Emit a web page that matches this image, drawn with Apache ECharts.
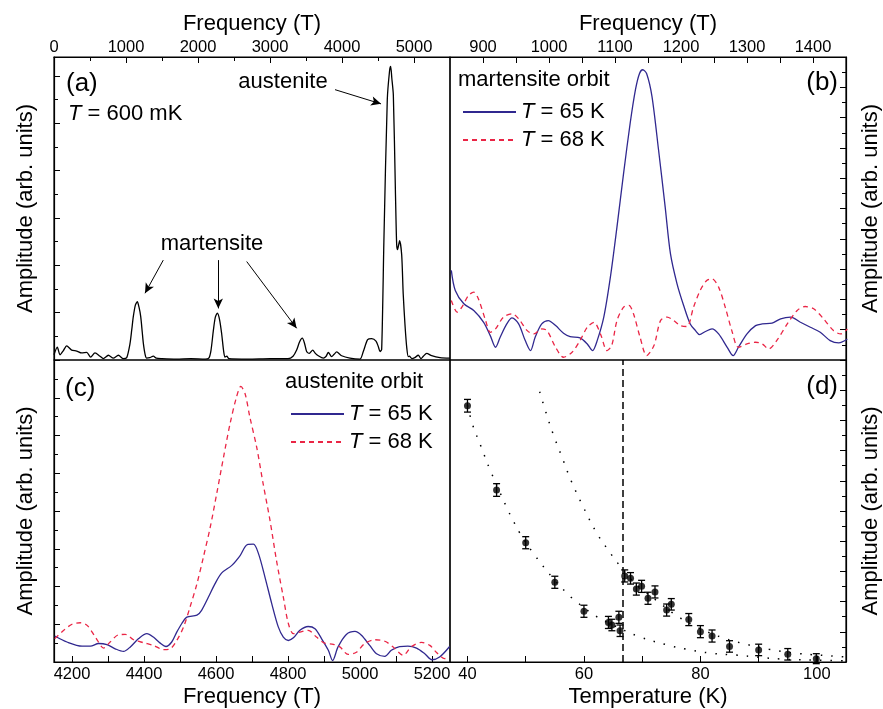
<!DOCTYPE html>
<html>
<head>
<meta charset="utf-8">
<title>Quantum oscillations - martensite / austenite</title>
<script src="https://cdn.jsdelivr.net/npm/echarts@6/dist/echarts.min.js"></script>
<style>
    html, body { margin: 0; padding: 0; background: #fff; }
    #main { width: 883px; height: 709px; }
</style>
</head>
<body>
<div id="main"></div>
<script type="text/javascript">
// ---- panel (a): FFT spectrum at T = 600 mK
var aFreq = [0, 46, 83, 130, 176, 245, 315, 384, 454, 509, 569, 639, 685, 755, 824, 894, 963, 1010, 1056, 1080, 1102, 1130, 1157, 1180, 1204, 1225, 1241, 1265, 1287, 1330, 1380, 1420, 1500, 1700, 1900, 2100, 2150, 2180, 2213, 2240, 2269, 2300, 2329, 2355, 2375, 2400, 2430, 2700, 3000, 3250, 3320, 3370, 3410, 3449, 3480, 3509, 3546, 3593, 3630, 3671, 3741, 3780, 3810, 3856, 3890, 3926, 3995, 4110, 4250, 4296, 4356, 4412, 4472, 4505, 4528, 4551, 4583, 4629, 4660, 4676, 4692, 4713, 4741, 4759, 4772, 4800, 4829, 4850, 4875, 4900, 4921, 4935, 4972, 5010, 5060, 5097, 5130, 5176, 5245, 5361, 5500];
var aAmp  = [0.11, 0.27, 0.11, 0.2, 0.30, 0.21, 0.19, 0.15, 0.16, 0.06, 0.15, 0.08, 0.03, 0.10, 0.04, 0.10, 0.03, 0.05, 0.35, 0.64, 0.92, 1.16, 1.23, 1.12, 0.92, 0.6, 0.35, 0.12, 0.04, 0.05, 0.08, 0.04, 0.03, 0.02, 0.03, 0.02, 0.04, 0.2, 0.62, 0.9, 0.99, 0.85, 0.55, 0.2, 0.06, 0.08, 0.03, 0.02, 0.03, 0.03, 0.08, 0.21, 0.38, 0.46, 0.35, 0.18, 0.14, 0.21, 0.14, 0.09, 0.04, 0.08, 0.16, 0.07, 0.12, 0.17, 0.09, 0.04, 0.02, 0.18, 0.43, 0.45, 0.40, 0.28, 0.18, 0.22, 2.6, 5.5, 6.1, 6.2, 5.95, 5.6, 3.63, 2.45, 2.33, 2.52, 2.22, 1.4, 0.74, 0.25, 0.07, 0.08, 0.03, 0.05, 0.10, 0.03, 0.08, 0.14, 0.09, 0.05, 0.04];
// arrows of panel (a): [fromFreq, fromAmp, toFreq, toAmp]
var aArrows = [
    [3903, 5.71, 4542, 5.41],
    [1518, 2.11, 1264, 1.41],
    [2282, 2.11, 2282, 1.09],
    [2676, 2.08, 3370, 0.67]
];

// ---- panel (b): martensite orbit
var b65Freq = [852, 858, 871, 886, 901, 911, 919, 926, 936, 944, 954, 964, 972, 979, 989, 999, 1010, 1022, 1032, 1047, 1058, 1066, 1073, 1083, 1093, 1103, 1113, 1123, 1131, 1137, 1142, 1148, 1156, 1166, 1176, 1184, 1194, 1204, 1214, 1222, 1228, 1237, 1247, 1257, 1270, 1279, 1287, 1300, 1313, 1323, 1338, 1351, 1366, 1381, 1396, 1411, 1426, 1439, 1452];
var b65Amp  = [5.92, 4.59, 3.71, 3.27, 2.49, 1.61, 0.84, 1.50, 2.38, 2.78, 2.38, 1.28, 0.62, 1.50, 2.38, 2.60, 2.27, 1.77, 1.55, 1.46, 1.06, 0.62, 1.28, 2.83, 5.47, 8.79, 12.32, 15.63, 17.84, 18.90, 19.16, 18.90, 17.40, 13.86, 10.11, 7.02, 5.03, 3.60, 2.38, 1.94, 1.68, 1.88, 2.05, 1.72, 0.84, 0.29, 0.84, 1.72, 2.27, 2.38, 2.43, 2.72, 2.83, 2.49, 2.16, 1.83, 1.28, 1.13, 1.39];
var b68Freq = [852, 861, 868, 878, 886, 893, 904, 911, 919, 931, 944, 954, 967, 977, 989, 997, 1010, 1022, 1035, 1047, 1058, 1068, 1078, 1088, 1095, 1103, 1113, 1121, 1128, 1138, 1148, 1159, 1169, 1179, 1189, 1199, 1209, 1219, 1229, 1239, 1247, 1257, 1267, 1277, 1287, 1300, 1313, 1323, 1333, 1345, 1361, 1376, 1388, 1401, 1416, 1431, 1442, 1452];
var b68Amp  = [3.93, 3.16, 3.49, 4.26, 4.48, 4.04, 2.60, 1.83, 2.05, 2.83, 3.05, 2.72, 1.94, 1.72, 2.05, 1.94, 0.84, 0.18, 0.51, 1.28, 2.16, 2.49, 1.72, 0.62, 0.95, 2.60, 3.49, 3.60, 3.05, 1.50, 0.29, 0.95, 2.60, 2.83, 2.60, 2.27, 2.21, 3.49, 4.59, 5.25, 5.36, 4.81, 3.49, 1.94, 0.84, 1.06, 1.17, 1.06, 0.73, 1.28, 2.38, 3.27, 3.53, 3.38, 2.72, 1.94, 1.72, 2.05];

// ---- panel (c): austenite orbit
var c65Freq = [4152, 4186, 4228, 4251, 4274, 4297, 4320, 4343, 4362, 4385, 4408, 4426, 4445, 4461, 4477, 4491, 4505, 4519, 4547, 4560, 4579, 4597, 4616, 4644, 4667, 4687, 4704, 4718, 4736, 4755, 4773, 4787, 4801, 4815, 4833, 4856, 4875, 4893, 4912, 4924, 4939, 4962, 4986, 5004, 5027, 5046, 5069, 5087, 5110, 5133, 5157, 5180, 5200, 5221, 5249];
var c65Amp  = [0.69, 0.53, 0.42, 0.42, 0.49, 0.46, 0.35, 0.28, 0.40, 0.62, 0.75, 0.66, 0.50, 0.41, 0.53, 0.79, 1.02, 1.19, 1.24, 1.37, 1.72, 2.07, 2.36, 2.56, 2.82, 3.11, 3.12, 2.87, 2.25, 1.54, 0.93, 0.66, 0.57, 0.64, 0.84, 0.94, 0.88, 0.62, 0.31, 0.04, 0.40, 0.73, 0.81, 0.71, 0.44, 0.22, 0.15, 0.31, 0.41, 0.42, 0.37, 0.22, 0.06, 0.13, 0.41];
var c68Freq = [4152, 4177, 4200, 4223, 4242, 4265, 4288, 4306, 4329, 4348, 4371, 4399, 4426, 4454, 4473, 4491, 4510, 4528, 4547, 4565, 4584, 4602, 4621, 4639, 4657, 4669, 4681, 4694, 4713, 4731, 4750, 4768, 4787, 4801, 4815, 4833, 4856, 4879, 4902, 4926, 4944, 4967, 4990, 5013, 5041, 5069, 5092, 5120, 5143, 5171, 5194, 5212, 5235, 5249];
var c68Amp  = [0.62, 0.84, 1.00, 1.04, 0.97, 0.66, 0.37, 0.53, 0.72, 0.73, 0.59, 0.51, 0.44, 0.33, 0.35, 0.57, 0.93, 1.46, 2.07, 2.78, 3.57, 4.46, 5.43, 6.31, 7.02, 7.30, 7.10, 6.49, 5.69, 4.72, 3.75, 2.69, 1.72, 1.02, 0.75, 0.79, 0.84, 0.66, 0.50, 0.47, 0.40, 0.20, 0.26, 0.49, 0.59, 0.55, 0.40, 0.18, 0.41, 0.52, 0.44, 0.26, 0.09, 0.13];

// ---- panel (d): amplitude vs temperature
var dTemp = [40, 45, 50, 55, 60, 64.2, 64.8, 66.0, 66.2, 67.0, 68.0, 69.0, 69.9, 71.0, 72.2, 74.2, 75.0, 78.0, 80.0, 82.0, 85.0, 90.0, 95.0, 99.9];
var dAmp  = [16.97, 11.39, 7.9, 5.28, 3.36, 2.62, 2.45, 2.96, 2.07, 5.70, 5.54, 4.83, 5.01, 4.22, 4.64, 3.44, 3.82, 2.81, 2.01, 1.72, 1.03, 0.80, 0.51, 0.22];
var dErr  = [0.42, 0.42, 0.4, 0.4, 0.4, 0.4, 0.38, 0.4, 0.38, 0.4, 0.38, 0.4, 0.4, 0.4, 0.4, 0.4, 0.38, 0.4, 0.4, 0.4, 0.38, 0.38, 0.38, 0.33];
var fitLowTemp  = [40, 40.9, 42.4, 43.8, 46.9, 47.8, 48.9, 51.4, 55, 57.1, 58.0, 61.8, 65, 69.5, 74.3, 77.5, 82.1, 86.1, 93.8, 102.4, 105];
var fitLowAmp   = [17.0, 15.7, 14.2, 12.8, 10.1, 9.4, 8.6, 7.15, 5.4, 4.55, 4.22, 3.1, 2.45, 1.68, 1.13, 0.85, 0.57, 0.46, 0.2, 0.1, 0.08];
var fitHighTemp = [52.4, 53.5, 54.8, 56.3, 57.8, 59.6, 62.1, 64.0, 66.1, 68, 70, 72.7, 76.2, 80, 84.1, 87.7, 91.8, 96.7, 104.4, 105];
var fitHighAmp  = [17.9, 16.5, 15.0, 13.5, 12.0, 10.5, 8.6, 7.5, 6.4, 5.5, 4.8, 4.0, 3.0, 2.2, 1.57, 1.19, 0.84, 0.57, 0.35, 0.33];
var transitionTemp = 66.6;

// tick / label values
var aFreqLabels = [0, 1000, 2000, 3000, 4000, 5000];
var bFreqTicks  = [900, 950, 1000, 1050, 1100, 1150, 1200, 1250, 1300, 1350, 1400];
var bFreqLabels = [900, 1000, 1100, 1200, 1300, 1400];
var cFreqTicks  = [4200, 4300, 4400, 4500, 4600, 4700, 4800, 4900, 5000, 5100, 5200];
var cFreqLabels = [4200, 4400, 4600, 4800, 5000, 5200];
var dTempTicks  = [40, 50, 60, 70, 80, 90, 100];
var dTempLabels = [40, 60, 80, 100];

var FONT = '"Liberation Sans", Arial, Helvetica, sans-serif';
var BLUE = '#30288f';
var RED = '#ea2545';

function pairs(xs, ys) {
    return xs.map(function (x, i) { return [x, ys[i]]; });
}

var black = {color: '#000'};
var tickStyle = {color: '#000', width: 1};

function valueAxis(extra) {
    var ax = {
        type: 'value',
        axisLine: {show: true, onZero: false, lineStyle: {color: '#000', width: 1.2}},
        axisTick: {show: true, inside: true, length: 6, lineStyle: tickStyle},
        minorTick: {show: false},
        axisLabel: {show: true, fontSize: 16.5, fontFamily: FONT, color: '#000', margin: 4,
            formatter: function (v) { return String(v); }},
        splitLine: {show: false},
        nameLocation: 'middle',
        nameTextStyle: {fontSize: 22, fontFamily: FONT, color: '#000'}
    };
    for (var k in extra) {
        if (typeof extra[k] === 'object' && ax[k] && !Array.isArray(extra[k])) {
            ax[k] = Object.assign({}, ax[k], extra[k]);
        } else {
            ax[k] = extra[k];
        }
    }
    return ax;
}

function legendFor(names, left, top) {
    return {
        left: left, top: top, orient: 'vertical',
        data: names,
        itemWidth: 53, itemHeight: 14, itemGap: 4,
        selectedMode: false,
        itemStyle: {opacity: 0},
        formatter: function (n) { return '{i|T} = ' + n.slice(1) + ' K'; },
        textStyle: {fontSize: 22, fontFamily: FONT, color: '#000', lineHeight: 24,
            rich: {i: {fontStyle: 'italic', fontSize: 22, fontFamily: FONT, color: '#000'}}}
    };
}

var myChart = echarts.init(document.getElementById('main'), null, {renderer: 'canvas'});

var option = {
    backgroundColor: '#fff',
    animation: false,
    grid: [
        {left: 54, top: 57, width: 396, height: 303},
        {left: 450, top: 57, width: 397, height: 303},
        {left: 54, top: 360, width: 396, height: 302},
        {left: 450, top: 360, width: 397, height: 302}
    ].map(function (g) {
        return Object.assign({show: true, borderColor: '#000', borderWidth: 1.2, containLabel: false}, g);
    }),
    xAxis: [
        valueAxis({gridIndex: 0, position: 'top', min: 0, max: 5500,
            axisTick: {customValues: aFreqLabels},
            minorTick: {show: true, splitNumber: 2, length: 4, lineStyle: tickStyle},
            axisLabel: {customValues: aFreqLabels, margin: 1},
            name: 'Frequency (T)', nameGap: 22}),
        valueAxis({gridIndex: 1, position: 'top', min: 850, max: 1450,
            axisTick: {customValues: bFreqTicks},
            axisLabel: {customValues: bFreqLabels, margin: 1},
            name: 'Frequency (T)', nameGap: 22}),
        valueAxis({gridIndex: 2, position: 'bottom', min: 4150, max: 5250,
            axisTick: {customValues: cFreqTicks},
            axisLabel: {customValues: cFreqLabels},
            name: 'Frequency (T)', nameGap: 24}),
        valueAxis({gridIndex: 3, position: 'bottom', min: 37, max: 105,
            axisTick: {customValues: dTempTicks},
            axisLabel: {customValues: dTempLabels},
            name: 'Temperature (K)', nameGap: 24})
    ],
    yAxis: [
        valueAxis({gridIndex: 0, position: 'left', min: 0, max: 6.4, interval: 1,
            minorTick: {show: true, splitNumber: 2, length: 4, lineStyle: tickStyle},
            axisLabel: {show: false},
            name: 'Amplitude (arb. units)', nameGap: 17}),
        valueAxis({gridIndex: 1, position: 'right', min: 0, max: 20, interval: 2,
            minorTick: {show: true, splitNumber: 2, length: 4, lineStyle: tickStyle},
            axisLabel: {show: false},
            name: 'Amplitude (arb. units)', nameGap: 14}),
        valueAxis({gridIndex: 2, position: 'left', min: 0, max: 8, interval: 1,
            minorTick: {show: true, splitNumber: 2, length: 4, lineStyle: tickStyle},
            axisLabel: {show: false},
            name: 'Amplitude (arb. units)', nameGap: 17}),
        valueAxis({gridIndex: 3, position: 'right', min: 0, max: 20, interval: 2,
            minorTick: {show: true, splitNumber: 2, length: 4, lineStyle: tickStyle},
            axisLabel: {show: false},
            name: 'Amplitude (arb. units)', nameGap: 14})
    ],
    legend: [
        legendFor(['b65', 'b68'], 457, 95),
        legendFor(['c65', 'c68'], 285, 397)
    ],
    graphic: [
        {type: 'text', x: 66, y: 84, style: {text: '(a)', font: '26px ' + FONT, fill: '#000', verticalAlign: 'middle'}},
        {type: 'text', x: 68, y: 114, style: {
            text: '{i|T} = 600 mK', verticalAlign: 'middle', fill: '#000', fontSize: 22, fontFamily: FONT,
            rich: {i: {fontStyle: 'italic', fontSize: 22, fontFamily: FONT, fill: '#000'}}}},
        {type: 'text', x: 283, y: 82, style: {text: 'austenite', font: '22px ' + FONT, fill: '#000', align: 'center', verticalAlign: 'middle'}},
        {type: 'text', x: 212, y: 244, style: {text: 'martensite', font: '22px ' + FONT, fill: '#000', align: 'center', verticalAlign: 'middle'}},
        {type: 'text', x: 838, y: 83, style: {text: '(b)', font: '26px ' + FONT, fill: '#000', align: 'right', verticalAlign: 'middle'}},
        {type: 'text', x: 458, y: 80, style: {text: 'martensite orbit', font: '22px ' + FONT, fill: '#000', verticalAlign: 'middle'}},
        {type: 'text', x: 65, y: 389, style: {text: '(c)', font: '26px ' + FONT, fill: '#000', verticalAlign: 'middle'}},
        {type: 'text', x: 285, y: 382, style: {text: 'austenite orbit', font: '22px ' + FONT, fill: '#000', verticalAlign: 'middle'}},
        {type: 'text', x: 838, y: 387, style: {text: '(d)', font: '26px ' + FONT, fill: '#000', align: 'right', verticalAlign: 'middle'}}
    ],
    series: [
        {
            name: 'a600', type: 'line', xAxisIndex: 0, yAxisIndex: 0,
            data: pairs(aFreq, aAmp), symbol: 'none', smooth: 0.25,
            lineStyle: {color: '#000', width: 1.3}, itemStyle: black,
            markLine: {
                silent: true, symbol: ['none', 'arrow'], symbolSize: [7, 10],
                lineStyle: {color: '#000', width: 1, type: 'solid'},
                label: {show: false},
                data: aArrows.map(function (r) {
                    return [{coord: [r[0], r[1]]}, {coord: [r[2], r[3]]}];
                })
            }
        },
        {
            name: 'b65', type: 'line', xAxisIndex: 1, yAxisIndex: 1,
            data: pairs(b65Freq, b65Amp), symbol: 'none', smooth: 0.3,
            lineStyle: {color: BLUE, width: 1.3}, itemStyle: {color: BLUE}
        },
        {
            name: 'b68', type: 'line', xAxisIndex: 1, yAxisIndex: 1,
            data: pairs(b68Freq, b68Amp), symbol: 'none', smooth: 0.3,
            lineStyle: {color: RED, width: 1.3, type: [5, 4]}, itemStyle: {color: RED}
        },
        {
            name: 'c65', type: 'line', xAxisIndex: 2, yAxisIndex: 2,
            data: pairs(c65Freq, c65Amp), symbol: 'none', smooth: 0.3,
            lineStyle: {color: BLUE, width: 1.3}, itemStyle: {color: BLUE}
        },
        {
            name: 'c68', type: 'line', xAxisIndex: 2, yAxisIndex: 2,
            data: pairs(c68Freq, c68Amp), symbol: 'none', smooth: 0.3,
            lineStyle: {color: RED, width: 1.3, type: [5, 4]}, itemStyle: {color: RED}
        },
        {
            name: 'fitLow', type: 'line', xAxisIndex: 3, yAxisIndex: 3,
            data: pairs(fitLowTemp, fitLowAmp), symbol: 'none', smooth: 0.4,
            lineStyle: {color: '#000', width: 1.5, type: [1.5, 9]}
        },
        {
            name: 'fitHigh', type: 'line', xAxisIndex: 3, yAxisIndex: 3,
            data: pairs(fitHighTemp, fitHighAmp), symbol: 'none', smooth: 0.4,
            lineStyle: {color: '#000', width: 1.5, type: [1.5, 9]}
        },
        {
            name: 'errors', type: 'custom', xAxisIndex: 3, yAxisIndex: 3,
            encode: {x: 0, y: 1},
            data: dTemp.map(function (t, i) { return [t, dAmp[i], dErr[i]]; }),
            renderItem: function (params, api) {
                var t = api.value(0), a = api.value(1), e = api.value(2);
                var top = api.coord([t, a + e]);
                var bot = api.coord([t, a - e]);
                var cw = 3.5;
                var st = {stroke: '#000', lineWidth: 1.3};
                return {type: 'group', children: [
                    {type: 'line', shape: {x1: top[0], y1: top[1], x2: bot[0], y2: bot[1]}, style: st},
                    {type: 'line', shape: {x1: top[0] - cw, y1: top[1], x2: top[0] + cw, y2: top[1]}, style: st},
                    {type: 'line', shape: {x1: bot[0] - cw, y1: bot[1], x2: bot[0] + cw, y2: bot[1]}, style: st}
                ]};
            }
        },
        {
            name: 'points', type: 'scatter', xAxisIndex: 3, yAxisIndex: 3,
            data: pairs(dTemp, dAmp), symbol: 'circle', symbolSize: 7,
            itemStyle: {color: '#000'},
            markLine: {
                silent: true, symbol: ['none', 'none'],
                lineStyle: {color: '#000', width: 1.5, type: [7, 4]},
                label: {show: false},
                data: [{xAxis: transitionTemp}]
            }
        }
    ]
};

myChart.setOption(option);
</script>
</body>
</html>
